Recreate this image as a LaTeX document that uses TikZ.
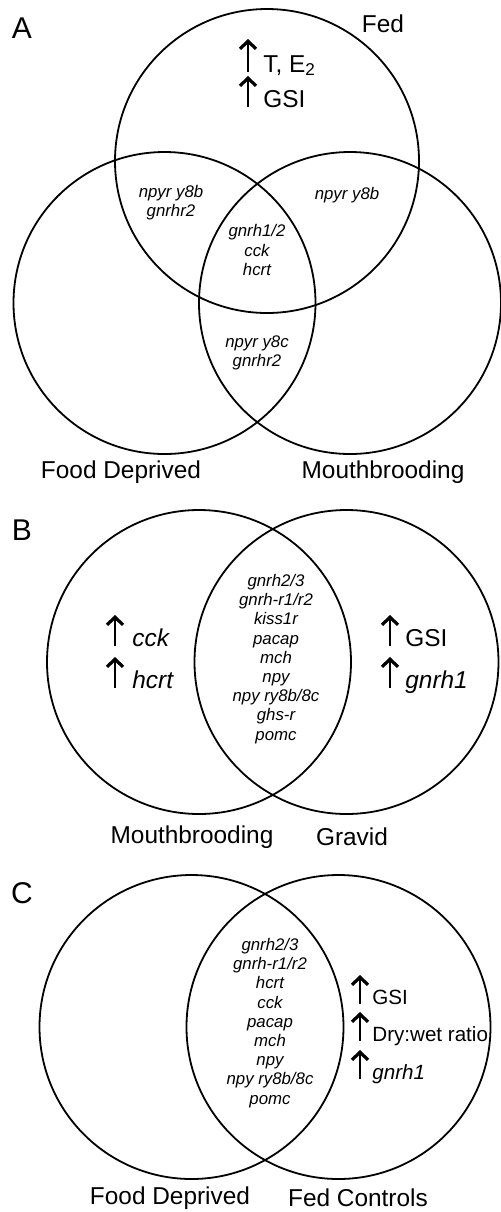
\documentclass[tikz,border=0pt]{standalone}
\usepackage{fontspec}
\setmainfont{Liberation Sans}
\usepackage{tikz}
\usetikzlibrary{arrows.meta, positioning}

\begin{document}
\begin{tikzpicture}[x=0.5pt,y=-0.5pt,
  ring/.style={line width=0.9pt},
  panel/.style={font=\fontsize{15}{17}\selectfont, inner sep=0pt},
  group/.style={font=\fontsize{12.2}{14}\selectfont, inner sep=0pt},
  gene/.style={font=\fontsize{8.4}{9.6}\selectfont\itshape, align=center, inner sep=0pt},
  note/.style={font=\fontsize{12.2}{14}\selectfont, inner sep=0pt, anchor=base west},
  smallnote/.style={note, font=\fontsize{10.3}{12}\selectfont},
  uparr/.style={line width=0.7pt, -{Straight Barb[length=3.8pt,width=8pt,line width=1.6pt]}}]
\useasboundingbox (0,0) rectangle (500,1212);

% panel A: three sets
\coordinate (fed) at (267,161);
\coordinate (fdA) at (164.5,303);
\coordinate (mbA) at (350,303);
\draw[ring] (fed) circle[radius=152];
\draw[ring] (fdA) circle[radius=151];
\draw[ring] (mbA) circle[radius=151];

\node[panel] (labA) at (22,28) {A};
\node[group] (fedlab) at (383,24) {Fed};
\node[group] (fdAlab) at (121,472) {Food Deprived};
\node[group] (mbAlab) at (383,472) {Mouthbrooding};

\coordinate (upA1) at (248,72);
\coordinate (upA2) at (248,107);
\node[note] (te) at ([xshift=7.5pt]upA1) {T, E\textsubscript{2}};
\node[note] (gsiA) at ([xshift=7.5pt]upA2) {GSI};
\draw[uparr] (upA1) -- ++(0,-33);
\draw[uparr] (upA2) -- ++(0,-31);

\node[gene] (fedfd) at (171,203) {npyr y8b\\gnrhr2};
\node[gene] (fedmb) at (347,195) {npyr y8b};
\node[gene] (allA) at (257,250) {gnrh1/2\\cck\\hcrt};
\node[gene] (fdmb) at (257,353) {npyr y8c\\gnrhr2};

% panel B: two sets
\coordinate (mbB) at (199,662);
\coordinate (grB) at (346.5,662);
\draw[ring] (mbB) circle[radius=152];
\draw[ring] (grB) circle[radius=152];

\node[panel] (labB) at (22,530) {B};
\node[group] (mbBlab) at (192,837) {Mouthbrooding};
\node[group] (grBlab) at (352,837) {Gravid};

\coordinate (upB1) at (115,646);
\coordinate (upB2) at (115,688);
\coordinate (upB3) at (390,646);
\coordinate (upB4) at (390,688);
\node[note] (cckB) at ([xshift=8.5pt]upB1) {\itshape cck};
\node[note] (hcrtB) at ([xshift=8.5pt]upB2) {\itshape hcrt};
\node[note] (gsiB) at ([xshift=7.5pt]upB3) {GSI};
\node[note] (gnrhB) at ([xshift=7.5pt]upB4) {\itshape gnrh1};
\foreach \u in {upB1,upB2,upB3,upB4}
  \draw[uparr] (\u) -- ++(0,-31);

\node[gene] (bothB) at (276,659)
  {gnrh2/3\\gnrh-r1/r2\\kiss1r\\pacap\\mch\\npy\\npy ry8b/8c\\ghs-r\\pomc};

% panel C: two sets
\coordinate (fdC) at (191.5,1027);
\coordinate (fcC) at (338.5,1027);
\draw[ring] (fdC) circle[radius=152];
\draw[ring] (fcC) circle[radius=152];

\node[panel] (labC) at (22,893) {C};
\node[group] (fdClab) at (170,1198) {Food Deprived};
\node[group] (fcClab) at (358,1198) {Fed Controls};

\coordinate (upC1) at (360,1004);
\coordinate (upC2) at (360,1041);
\coordinate (upC3) at (360,1079);
\node[smallnote] (gsiC) at ([xshift=6pt]upC1) {GSI};
\node[smallnote] (dryC) at ([xshift=6pt]upC2) {Dry:wet ratio};
\node[smallnote] (gnrhC) at ([xshift=6pt]upC3) {\itshape gnrh1};
\foreach \u in {upC1,upC2,upC3}
  \draw[uparr] (\u) -- ++(0,-29);

\node[gene] (bothC) at (270,1023)
  {gnrh2/3\\gnrh-r1/r2\\hcrt\\cck\\pacap\\mch\\npy\\npy ry8b/8c\\pomc};
\end{tikzpicture}
\end{document}
